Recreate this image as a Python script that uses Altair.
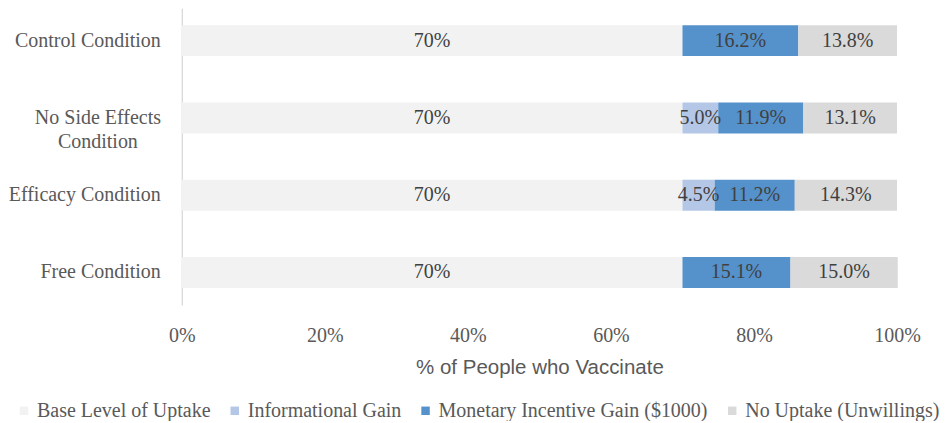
import altair as alt
import pandas as pd

# ---- data ----
conditions = ["Control Condition", "No Side Effects Condition", "Efficacy Condition", "Free Condition"]
condition_lines = [["Control Condition"], ["No Side Effects", "Condition"], ["Efficacy Condition"], ["Free Condition"]]
series = ["Base Level of Uptake", "Informational Gain", "Monetary Incentive Gain ($1000)", "No Uptake (Unwillings)"]
base = [70, 70, 70, 70]
informational = [0, 5.0, 4.5, 0]
monetary = [16.2, 11.9, 11.2, 15.1]
no_uptake = [13.8, 13.1, 14.3, 15.0]
colors = ["#F2F2F2", "#B4C7E7", "#5592CB", "#DADADA"]
x_ticks = [0, 20, 40, 60, 80, 100]

rows = []
for i, c in enumerate(conditions):
    for j, (s, vals) in enumerate(zip(series, [base, informational, monetary, no_uptake])):
        v = vals[i]
        lab = f"{v:.0f}%" if j == 0 else f"{v:.1f}%"
        rows.append({"condition": c, "series": s, "value": v, "order": j, "label": lab})
df = pd.DataFrame(rows)

lab_rows = []
for c, lines in zip(conditions, condition_lines):
    lab_rows.append({"condition": c, "text": "\n".join(lines), "multi": len(lines) > 1})
labdf = pd.DataFrame(lab_rows)

SERIF = "Liberation Serif"
SANS = "Liberation Sans"

yscale = alt.Scale(domain=conditions, paddingInner=0.6, paddingOuter=0.22)
yenc = alt.Y("condition:N", sort=conditions, scale=yscale,
             axis=alt.Axis(labels=False, ticks=False, title=None, grid=False,
                           domainColor="#D9D9D9", domainWidth=1.3))
xscale = alt.Scale(domain=[0, 100], nice=False)

stacked = alt.Chart(df).transform_stack(
    stack="value", groupby=["condition"], as_=["v0", "v1"],
    sort=[alt.SortField("order", order="ascending")]
).transform_calculate(mid="(datum.v0 + datum.v1) / 2")

bars = stacked.mark_bar().encode(
    x=alt.X("v0:Q", scale=xscale,
            axis=alt.Axis(values=x_ticks, labelExpr="datum.value + '%'", grid=False,
                          domain=False, ticks=False, labelFlush=False, labelFont=SERIF,
                          labelFontSize=20, labelColor="#595959", labelPadding=21,
                          title="% of People who Vaccinate", titleFont=SANS,
                          titleFontSize=20.5, titleFontWeight="normal",
                          titleColor="#595959", titlePadding=12)),
    x2="v1:Q",
    y=yenc,
    color=alt.Color("series:N", scale=alt.Scale(domain=series, range=colors),
                    legend=alt.Legend(orient="none", legendX=-168, legendY=393,
                                      direction="horizontal", columns=4, title=None,
                                      symbolType="square", symbolSize=72,
                                      symbolStrokeWidth=0, labelFont=SERIF,
                                      labelFontSize=20, labelColor="#595959",
                                      labelLimit=0, columnPadding=14, labelOffset=3,
                                      padding=0)),
)

texts = stacked.transform_filter("datum.value > 0").mark_text(
    font=SERIF, fontSize=20, color="#404040", baseline="middle", align="center"
).encode(
    x=alt.X("mid:Q", scale=xscale),
    y=alt.Y("condition:N", sort=conditions, scale=yscale),
    text="label:N",
)

ylab_single = alt.Chart(labdf).transform_filter("!datum.multi").mark_text(
    font=SERIF, fontSize=20, color="#595959", align="right", baseline="middle"
).encode(
    x=alt.value(-21),
    y=alt.Y("condition:N", sort=conditions, scale=yscale),
    text="text:N",
)

ylab_multi = alt.Chart(labdf).transform_filter("datum.multi").mark_text(
    font=SERIF, fontSize=20, color="#595959", align="center", baseline="middle",
    lineBreak="\n", lineHeight=24
).encode(
    x=alt.value(-84),
    y=alt.Y("condition:N", sort=conditions, scale=yscale),
    text="text:N",
)

chart = alt.layer(bars, texts, ylab_single, ylab_multi).properties(
    width=716, height=297, padding=0, background="white"
).configure_view(strokeWidth=0, stroke=None)

chart.save("out.html", embed_options={"renderer": "svg", "actions": False})
